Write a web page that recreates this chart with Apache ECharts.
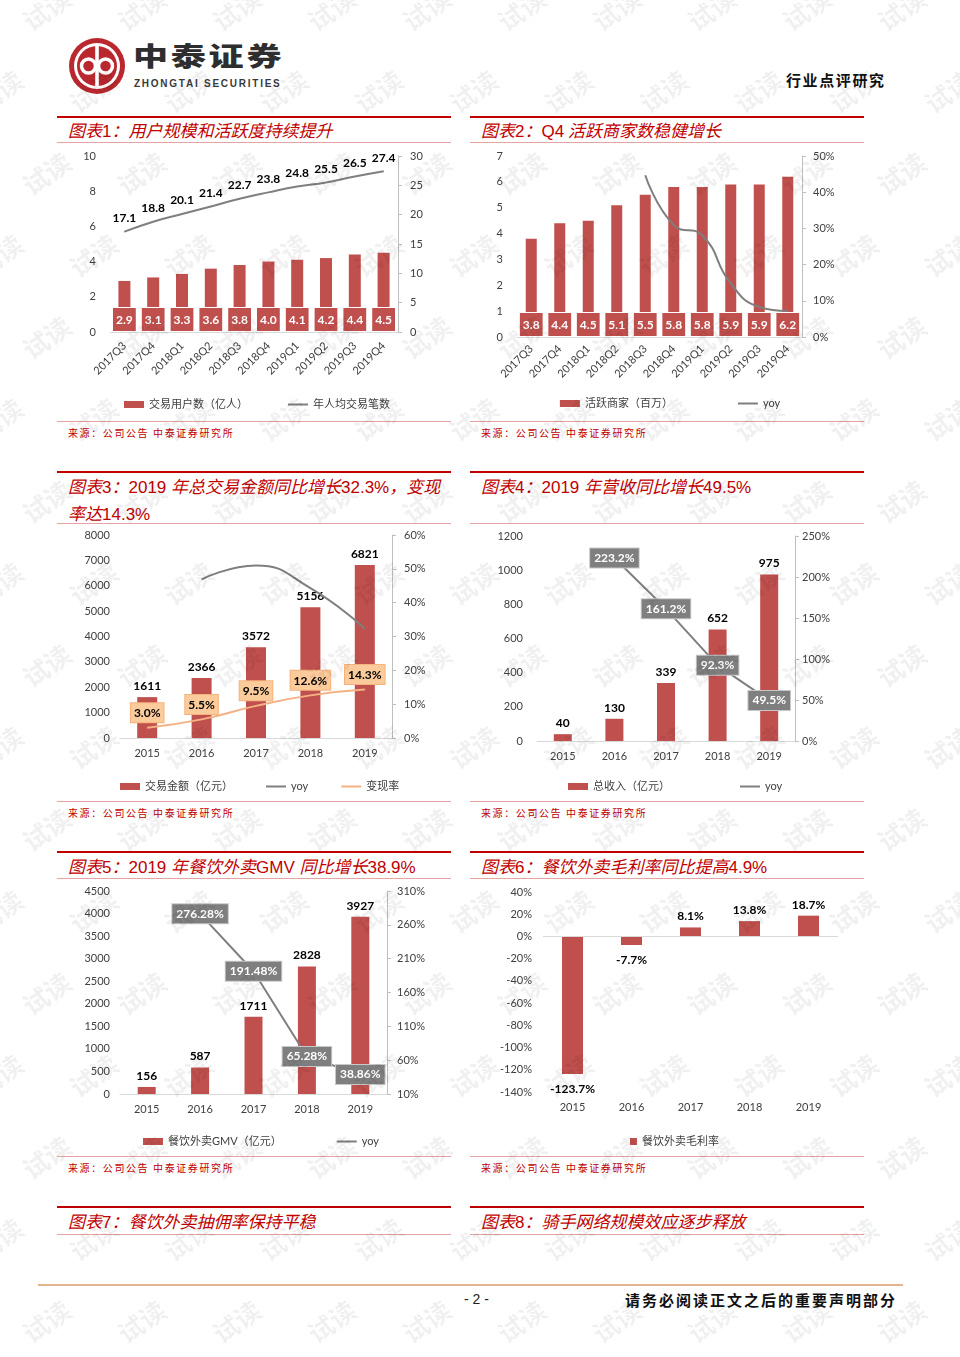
<!DOCTYPE html>
<html><head><meta charset="utf-8">
<script src="https://cdn.jsdelivr.net/npm/echarts@6/dist/echarts.min.js"></script>
<style>
html,body{margin:0;padding:0;background:#fff;}
body{width:960px;height:1357px;position:relative;overflow:hidden;font-family:"Noto Sans CJK SC",sans-serif;}
.thick{position:absolute;height:2px;background:#c00000;}
.thin{position:absolute;height:1px;background:#e6a3a3;}
.ttl{position:absolute;color:#c00000;font-size:17px;font-style:italic;line-height:25px;white-space:nowrap;font-family:"Noto Sans CJK SC",sans-serif;}
.ttl .lat{font-style:normal;font-family:"Liberation Sans",Arial,sans-serif;}
.src{position:absolute;color:#c00000;font-size:10px;letter-spacing:1.6px;white-space:nowrap;line-height:12px;}
.chart{position:absolute;width:400px;height:275px;}
.wm{position:absolute;color:rgba(0,0,0,0.06);font-size:26px;font-weight:bold;transform:rotate(-35deg);pointer-events:none;z-index:5;white-space:nowrap;}
</style></head>
<body>
<!-- header -->
<svg style="position:absolute;left:67px;top:36px" width="60" height="60" viewBox="0 0 60 60">
  <circle cx="30" cy="30" r="28" fill="#b8282e"/>
  <circle cx="30" cy="30" r="23" fill="#fff"/>
  <circle cx="30" cy="30" r="20" fill="#b8282e"/>
  <circle cx="21.5" cy="30" r="7" fill="none" stroke="#fff" stroke-width="3.5"/>
  <circle cx="38.5" cy="30" r="7" fill="none" stroke="#fff" stroke-width="3.5"/>
  <rect x="28.2" y="10" width="3.6" height="40" fill="#fff"/>
</svg>
<div style="position:absolute;left:133px;top:38px;font-size:26px;font-weight:900;color:#2e2e2e;letter-spacing:2px;transform:scaleX(1.35);transform-origin:left top;line-height:34px;white-space:nowrap;">中泰证券</div>
<div style="position:absolute;left:134px;top:78px;font-size:10px;font-weight:bold;color:#3a3a3a;letter-spacing:1.75px;font-family:'Liberation Sans',Arial,sans-serif;line-height:12px;white-space:nowrap;">ZHONGTAI SECURITIES</div>
<div style="position:absolute;left:786px;top:70px;font-size:15px;font-weight:bold;color:#111;letter-spacing:1.6px;line-height:20px;white-space:nowrap;">行业点评研究</div>

<!-- section rules and titles -->
<div class="thick" style="left:57px;top:116px;width:394px"></div>
<div class="thick" style="left:470px;top:116px;width:394px"></div>
<div class="ttl" style="left:68px;top:117px">图表<span class="lat">1</span>：用户规模和活跃度持续提升</div>
<div class="ttl" style="left:481px;top:117px">图表<span class="lat">2</span>：<span class="lat">Q4</span> 活跃商家数稳健增长</div>
<div class="thin" style="left:57px;top:142px;width:394px"></div>
<div class="thin" style="left:470px;top:142px;width:394px"></div>

<div class="thin" style="left:57px;top:421px;width:394px"></div>
<div class="thin" style="left:470px;top:421px;width:394px"></div>
<div class="src" style="left:68px;top:427px">来源：公司公告 中泰证券研究所</div>
<div class="src" style="left:481px;top:427px">来源：公司公告 中泰证券研究所</div>

<div class="thick" style="left:57px;top:471px;width:394px"></div>
<div class="thick" style="left:470px;top:471px;width:394px"></div>
<div class="ttl" style="left:68px;top:473px">图表<span class="lat">3</span>：<span class="lat">2019 </span>年总交易金额同比增长<span class="lat">32.3%</span>，变现<br>率达<span class="lat">14.3%</span></div>
<div class="ttl" style="left:481px;top:473px">图表<span class="lat">4</span>：<span class="lat">2019 </span>年营收同比增长<span class="lat">49.5%</span></div>
<div class="thin" style="left:57px;top:523px;width:394px"></div>
<div class="thin" style="left:470px;top:523px;width:394px"></div>

<div class="thin" style="left:57px;top:801px;width:394px"></div>
<div class="thin" style="left:470px;top:801px;width:394px"></div>
<div class="src" style="left:68px;top:807px">来源：公司公告 中泰证券研究所</div>
<div class="src" style="left:481px;top:807px">来源：公司公告 中泰证券研究所</div>

<div class="thick" style="left:57px;top:851px;width:394px"></div>
<div class="thick" style="left:470px;top:851px;width:394px"></div>
<div class="ttl" style="left:68px;top:853px">图表<span class="lat">5</span>：<span class="lat">2019 </span>年餐饮外卖<span class="lat">GMV </span>同比增长<span class="lat">38.9%</span></div>
<div class="ttl" style="left:481px;top:853px">图表<span class="lat">6</span>：餐饮外卖毛利率同比提高<span class="lat">4.9%</span></div>
<div class="thin" style="left:57px;top:878px;width:394px"></div>
<div class="thin" style="left:470px;top:878px;width:394px"></div>

<div class="thin" style="left:57px;top:1156px;width:394px"></div>
<div class="thin" style="left:470px;top:1156px;width:394px"></div>
<div class="src" style="left:68px;top:1162px">来源：公司公告 中泰证券研究所</div>
<div class="src" style="left:481px;top:1162px">来源：公司公告 中泰证券研究所</div>

<div class="thick" style="left:57px;top:1206px;width:394px"></div>
<div class="thick" style="left:470px;top:1206px;width:394px"></div>
<div class="ttl" style="left:68px;top:1208px">图表<span class="lat">7</span>：餐饮外卖抽佣率保持平稳</div>
<div class="ttl" style="left:481px;top:1208px">图表<span class="lat">8</span>：骑手网络规模效应逐步释放</div>
<div class="thin" style="left:57px;top:1234px;width:394px"></div>
<div class="thin" style="left:470px;top:1234px;width:394px"></div>

<!-- footer -->
<div style="position:absolute;left:38px;top:1284px;width:865px;height:2px;background:#e3b58c"></div>
<div style="position:absolute;left:464px;top:1290px;font-size:14px;color:#222;line-height:18px;font-family:'Liberation Sans',Arial,sans-serif;">- 2 -</div>
<div style="position:absolute;left:625px;top:1290px;font-size:15px;font-weight:bold;color:#111;letter-spacing:2px;line-height:20px;white-space:nowrap;">请务必阅读正文之后的重要声明部分</div>

<div id="c1" class="chart" style="left:57px;top:145px"></div>
<div id="c2" class="chart" style="left:470px;top:145px"></div>
<div id="c3" class="chart" style="left:57px;top:525px"></div>
<div id="c4" class="chart" style="left:470px;top:525px"></div>
<div id="c5" class="chart" style="left:57px;top:880px"></div>
<div id="c6" class="chart" style="left:470px;top:880px"></div>

<script>
// ---------- data ----------
const quarters = ['2017Q3','2017Q4','2018Q1','2018Q2','2018Q3','2018Q4','2019Q1','2019Q2','2019Q3','2019Q4'];
const tradingUsers = [2.9,3.1,3.3,3.6,3.8,4.0,4.1,4.2,4.4,4.5];
const txnPerUser = [17.1,18.8,20.1,21.4,22.7,23.8,24.8,25.5,26.5,27.4];
const activeMerchants = [3.8,4.4,4.5,5.1,5.5,5.8,5.8,5.9,5.9,6.2];
const merchantYoy = [null,null,null,null,44.7,30.9,28.1,14.8,8.3,7.2];
const years = ['2015','2016','2017','2018','2019'];
const gtv = [1611,2366,3572,5156,6821];
const gtvYoy = [null,46.9,51.0,44.3,32.3];
const monetization = [3.0,5.5,9.5,12.6,14.3];
const revenue = [40,130,339,652,975];
const revenueYoy = [null,223.2,161.2,92.3,49.5];
const foodGmv = [156,587,1711,2828,3927];
const foodGmvYoy = [null,276.28,191.48,65.28,38.86];
const foodMargin = [-123.7,-7.7,8.1,13.8,18.7];

// ---------- styles ----------
const FONT = 'Lato, "Noto Sans CJK SC", sans-serif';
const RED = '#c0504d';
const GRAY = '#7f7f7f';
const ORANGE = '#f4b183';
const TXT = '#404040';
const LINE_ICON = 'path://M0,0H20V2H0Z';
const txt = {color:TXT, fontSize:11, fontFamily:FONT};
const plain = v => String(v);
const pct = v => v + '%';
const legendBase = {itemWidth:20, itemHeight:7, textStyle:{color:TXT, fontSize:11, fontFamily:FONT}};
const lineLegend = (name) => ({name, icon:LINE_ICON, itemStyle:{borderWidth:0}});
const barLegend = (name) => ({name, icon:'rect', itemStyle:{borderWidth:0}});
const leftAxis = (min,max,interval,margin,fmt) => ({type:'value', min, max, interval,
  axisLine:{show:false}, axisTick:{show:false}, splitLine:{show:false},
  axisLabel:Object.assign({margin, formatter:fmt||plain}, txt)});
const rightAxis = (min,max,interval,margin,fmt) => ({type:'value', position:'right', min, max, interval,
  axisLine:{show:true, lineStyle:{color:'#bfbfbf'}}, axisTick:{show:true, length:4, lineStyle:{color:'#bfbfbf'}},
  splitLine:{show:false}, axisLabel:Object.assign({margin, formatter:fmt||plain}, txt)});
const catAxis = (data, extra) => Object.assign({type:'category', data,
  axisLine:{lineStyle:{color:'#d9d9d9'}}, axisTick:{show:false},
  axisLabel:Object.assign({interval:0, margin:10}, txt)}, extra||{});
const boxLabel = {show:true, position:'insideBottom', distance:1, color:'#fff', fontWeight:'bold', fontSize:12,
  fontFamily:FONT, backgroundColor:RED, borderColor:'#ffffff', borderWidth:1, padding:[6,3,5,3],
  formatter:p=>Number(p.value).toFixed(1)};
const topLabel = {show:true, position:'top', distance:5, color:'#000', fontWeight:'bold', fontSize:12, fontFamily:FONT};
const grayBox = {show:true, position:'inside', color:'#fff', fontWeight:'bold', fontSize:12, fontFamily:FONT,
  backgroundColor:GRAY, borderColor:'#c8c8c8', borderWidth:1, padding:[4,4,3,4]};

function init(id){ return echarts.init(document.getElementById(id), null, {renderer:'canvas'}); }

// ---------- chart 1 ----------
init('c1').setOption({
  animation:false,
  grid:{left:53, top:11, width:288, height:176},
  legend:Object.assign({top:249, left:'center', itemGap:40,
    data:[barLegend('交易用户数（亿人）'), lineLegend('年人均交易笔数')]}, legendBase),
  xAxis:catAxis(quarters, {axisLabel:Object.assign({interval:0, rotate:45, margin:12}, txt)}),
  yAxis:[leftAxis(0,10,2,14), rightAxis(0,30,5,12)],
  series:[
    {type:'bar', name:'交易用户数（亿人）', data:tradingUsers, barWidth:12, itemStyle:{color:RED}, label:boxLabel},
    {type:'line', name:'年人均交易笔数', yAxisIndex:1, data:txnPerUser, smooth:true, symbol:'circle', symbolSize:1,
      lineStyle:{color:GRAY, width:2}, itemStyle:{color:GRAY},
      label:Object.assign({}, topLabel, {distance:7})}
  ]
});

// ---------- chart 2 ----------
init('c2').setOption({
  animation:false,
  grid:{left:47, top:11, width:285, height:181},
  legend:Object.assign({top:248, left:'center', itemGap:65,
    data:[barLegend('活跃商家（百万）'), lineLegend('yoy')]}, legendBase),
  xAxis:catAxis(quarters, {axisLabel:Object.assign({interval:0, rotate:45, margin:10}, txt)}),
  yAxis:[leftAxis(0,7,1,14), rightAxis(0,50,10,11,pct)],
  series:[
    {type:'bar', name:'活跃商家（百万）', data:activeMerchants, barWidth:11, itemStyle:{color:RED}, label:boxLabel},
    {type:'line', name:'yoy', yAxisIndex:1, data:merchantYoy, smooth:0.5, symbol:'none',
      lineStyle:{color:GRAY, width:2}, itemStyle:{color:GRAY}}
  ]
});

// ---------- chart 3 ----------
init('c3').setOption({
  animation:false,
  grid:{left:63, top:10, width:272, height:203},
  legend:Object.assign({top:251, left:58, itemGap:33,
    data:[barLegend('交易金额（亿元）'), lineLegend('yoy'), lineLegend('变现率')]}, legendBase),
  xAxis:catAxis(years),
  yAxis:[leftAxis(0,8000,1000,10), rightAxis(0,60,10,12,pct)],
  series:[
    {type:'bar', name:'交易金额（亿元）', data:gtv, barWidth:20, itemStyle:{color:RED}, label:topLabel},
    {type:'line', name:'yoy', yAxisIndex:1, data:gtvYoy, smooth:true, symbol:'none',
      lineStyle:{color:GRAY, width:2}, itemStyle:{color:GRAY}},
    {type:'line', name:'变现率', yAxisIndex:1, data:monetization, smooth:true, symbol:'circle', symbolSize:1,
      lineStyle:{color:ORANGE, width:2}, itemStyle:{color:ORANGE},
      label:{show:true, position:'top', distance:5, color:'#000', fontWeight:'bold', fontSize:12, fontFamily:FONT,
        backgroundColor:'#fbcb9c', borderColor:'#f6b27c', borderWidth:1, padding:[4,3,3,3],
        formatter:p=>Number(p.value).toFixed(1)+'%'}}
  ]
});

// ---------- chart 4 ----------
init('c4').setOption({
  animation:false,
  grid:{left:67, top:11, width:258, height:205},
  legend:Object.assign({top:251, left:93, itemGap:70,
    data:[barLegend('总收入（亿元）'), lineLegend('yoy')]}, legendBase),
  xAxis:catAxis(years),
  yAxis:[leftAxis(0,1200,200,14), rightAxis(0,250,50,7,pct)],
  series:[
    {type:'bar', name:'总收入（亿元）', data:revenue, barWidth:18, itemStyle:{color:RED}, label:topLabel},
    {type:'line', name:'yoy', yAxisIndex:1, data:revenueYoy, symbol:'circle', symbolSize:1,
      lineStyle:{color:GRAY, width:2}, itemStyle:{color:GRAY},
      label:Object.assign({}, grayBox, {formatter:p=>Number(p.value).toFixed(1)+'%'})}
  ]
});

// ---------- chart 5 ----------
init('c5').setOption({
  animation:false,
  grid:{left:63, top:11, width:267, height:203},
  legend:Object.assign({top:251, left:81, itemGap:55,
    data:[barLegend('餐饮外卖GMV（亿元）'), lineLegend('yoy')]}, legendBase),
  xAxis:catAxis(years),
  yAxis:[leftAxis(0,4500,500,10), rightAxis(10,310,50,10,pct)],
  series:[
    {type:'bar', name:'餐饮外卖GMV（亿元）', data:foodGmv, barWidth:18, itemStyle:{color:RED}, label:topLabel},
    {type:'line', name:'yoy', yAxisIndex:1, data:foodGmvYoy, symbol:'circle', symbolSize:1,
      lineStyle:{color:GRAY, width:2}, itemStyle:{color:GRAY},
      label:Object.assign({}, grayBox, {formatter:p=>Number(p.value).toFixed(2)+'%'})}
  ]
});

// ---------- chart 6 ----------
init('c6').setOption({
  animation:false,
  grid:{left:73, top:12, width:295, height:200},
  legend:Object.assign({}, legendBase, {top:251, left:155, itemWidth:7, itemHeight:7,
    data:[barLegend('餐饮外卖毛利率')]}),
  xAxis:catAxis(years, {axisLine:{show:false, onZero:false}, axisLabel:Object.assign({interval:0, margin:10}, txt)}),
  yAxis:[leftAxis(-140,40,20,11,pct)],
  series:[
    {type:'bar', name:'餐饮外卖毛利率', barWidth:21, itemStyle:{color:RED},
      data:foodMargin.map(v=>({value:v, label:{position: v<0 ? 'bottom' : 'top', distance: v<0 ? 9 : 5}})),
      label:Object.assign({}, topLabel, {formatter:p=>Number(p.value).toFixed(1)+'%'}),
      markLine:{silent:true, symbol:'none', label:{show:false}, lineStyle:{color:'#d9d9d9', type:'solid', width:1},
        data:[{yAxis:0}]}}
  ]
});

// ---------- watermark ----------
(function(){
  for (let r = 0; r < 17; r++) {
    for (let c = -1; c < 12; c++) {
      const d = document.createElement('div');
      d.className = 'wm';
      d.textContent = '试读';
      d.style.left = (c*95 + (r%2)*47 + 20) + 'px';
      d.style.top = (r*82 - 10) + 'px';
      document.body.appendChild(d);
    }
  }
})();
</script>
</body></html>
